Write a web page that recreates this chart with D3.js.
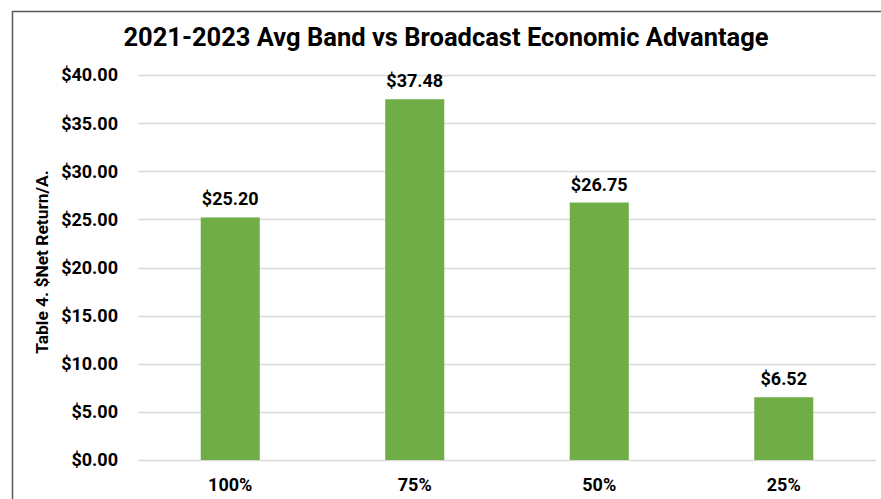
<!DOCTYPE html>
<html><head><meta charset="utf-8">
<script src="https://cdn.jsdelivr.net/npm/d3@7"></script>
<style>body{margin:0;background:#fff}svg{display:block;font-family:Roboto,sans-serif}</style>
</head><body>
<script>
const categories = ["100%", "75%", "50%", "25%"];
const values = [25.20, 37.48, 26.75, 6.52];
const yTicks = [0, 5, 10, 15, 20, 25, 30, 35, 40];
const title = "2021-2023 Avg Band vs Broadcast Economic Advantage";
const yTitle = "Table 4. $Net Return/A.";

const W = 881, H = 499;
const svg = d3.select("body").append("svg").attr("width", W).attr("height", H);

svg.append("rect").attr("x", 12.5).attr("y", 11.5).attr("width", W + 10).attr("height", H + 10)
  .attr("fill", "#fff").attr("stroke", "#595959").attr("stroke-width", 1.5);

const x = d3.scaleBand().domain(categories).range([138, 876]).paddingInner(0.68).paddingOuter(0.34);
const y = d3.scaleLinear().domain([0, 40]).range([460, 75]);

svg.append("g").selectAll("line").data(yTicks).join("line")
  .attr("x1", 138).attr("x2", 876)
  .attr("y1", d => Math.round(y(d)) + 0.5).attr("y2", d => Math.round(y(d)) + 0.5)
  .attr("stroke", "#d9d9d9").attr("stroke-width", 1.5);

const fmt = d => "$" + d3.format(".2f")(d);

svg.append("g").selectAll("text").data(yTicks).join("text")
  .attr("x", 118).attr("y", d => y(d)).attr("dy", "0.36em")
  .attr("text-anchor", "end").attr("font-size", 18).attr("font-weight", "bold").attr("fill", "#000")
  .text(fmt);

svg.append("g").selectAll("rect").data(values).join("rect")
  .attr("x", (d, i) => x(categories[i])).attr("width", x.bandwidth())
  .attr("y", d => y(d)).attr("height", d => y(0) - y(d)).attr("fill", "#70ad47");

svg.append("g").selectAll("text").data(values).join("text")
  .attr("x", (d, i) => x(categories[i]) + x.bandwidth() / 2).attr("y", d => y(d) - 12)
  .attr("text-anchor", "middle").attr("font-size", 18).attr("font-weight", "bold").text(fmt);

svg.append("g").selectAll("text").data(categories).join("text")
  .attr("x", d => x(d) + x.bandwidth() / 2).attr("y", 491)
  .attr("text-anchor", "middle").attr("font-size", 18).attr("font-weight", "bold").text(d => d);

svg.append("text").attr("x", 446).attr("y", 46).attr("text-anchor", "middle")
  .attr("font-size", 25.5).attr("font-weight", "bold").text(title);

svg.append("text").attr("transform", "translate(48,262) rotate(-90)").attr("text-anchor", "middle")
  .attr("font-size", 17.4).attr("font-weight", "bold").text(yTitle);
</script>
</body></html>
